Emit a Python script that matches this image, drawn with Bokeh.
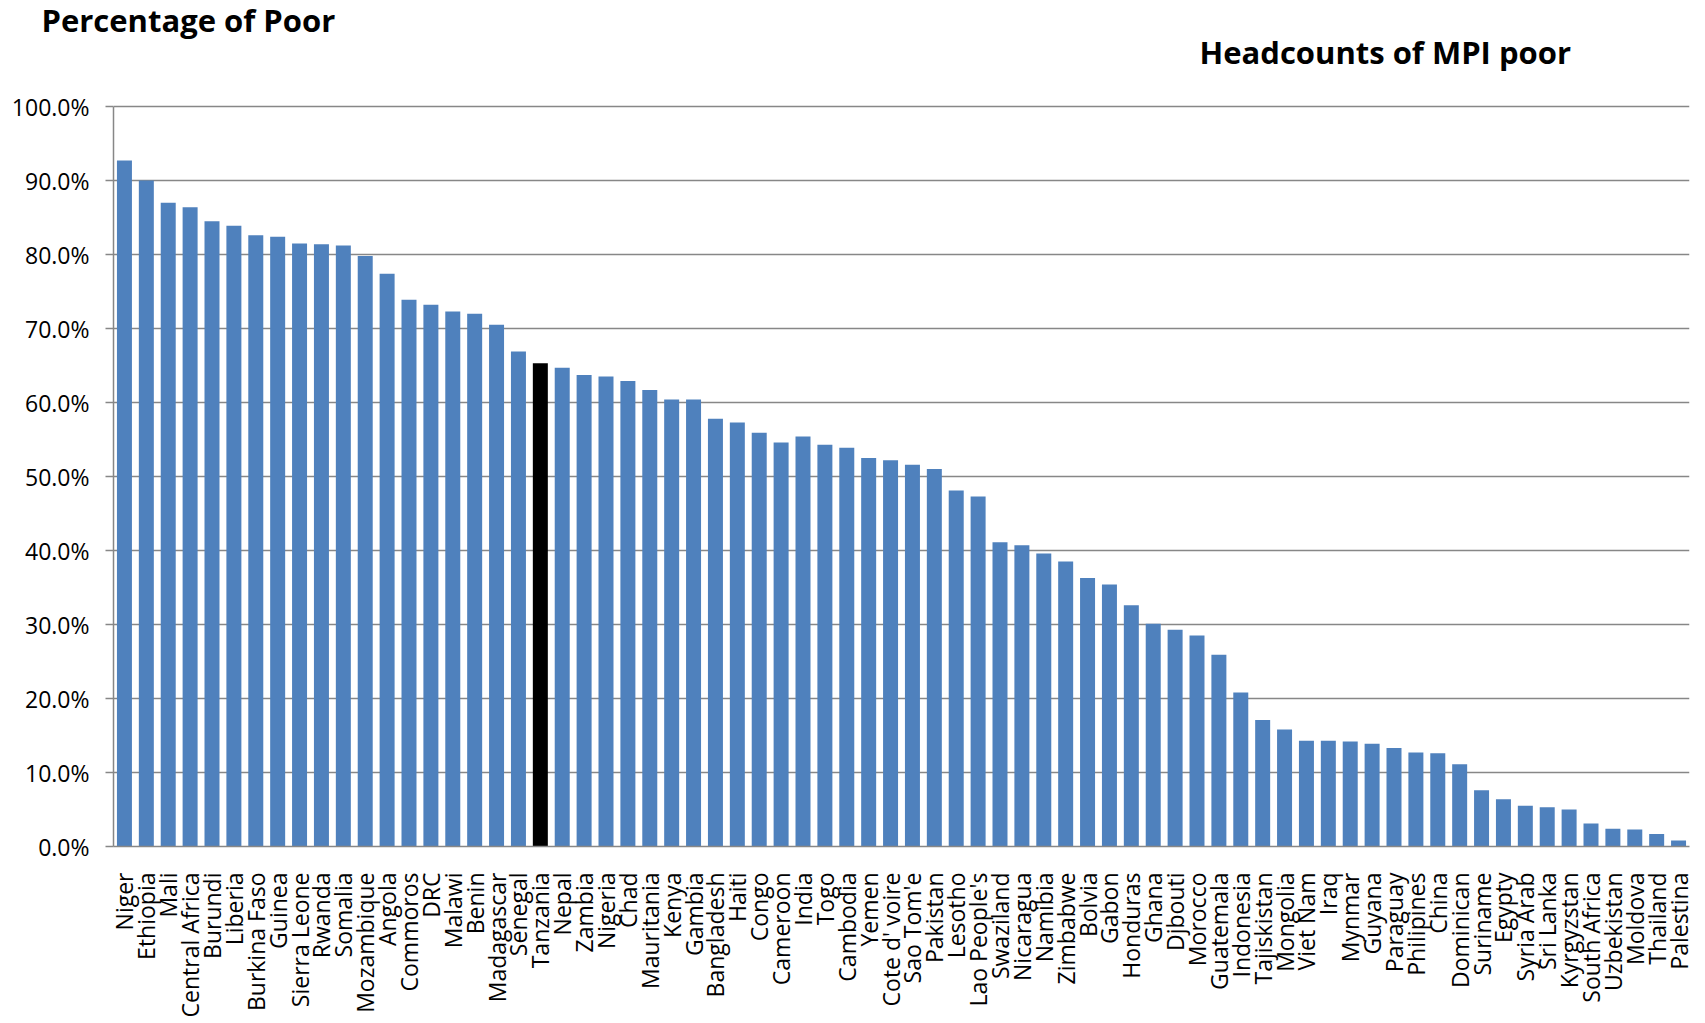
import math

from bokeh.plotting import figure
from bokeh.core.properties import value
from bokeh.models import ColumnDataSource, FixedTicker, NumeralTickFormatter, Range1d, Title
from bokeh.embed import file_html
from bokeh.resources import INLINE

countries = [
    "Niger", "Ethiopia", "Mali", "Central Africa", "Burundi", "Liberia", "Burkina Faso",
    "Guinea", "Sierra Leone", "Rwanda", "Somalia", "Mozambique", "Angola", "Commoros",
    "DRC", "Malawi", "Benin", "Madagascar", "Senegal", "Tanzania", "Nepal", "Zambia",
    "Nigeria", "Chad", "Mauritania", "Kenya", "Gambia", "Bangladesh", "Haiti", "Congo",
    "Cameroon", "India", "Togo", "Cambodia", "Yemen", "Cote d' voire", "Sao Tom'e",
    "Pakistan", "Lesotho", "Lao People's", "Swaziland", "Nicaragua", "Namibia",
    "Zimbabwe", "Bolvia", "Gabon", "Honduras", "Ghana", "Djbouti", "Morocco",
    "Guatemala", "Indonesia", "Tajiskistan", "Mongolia", "Viet Nam", "Iraq", "Mynmar",
    "Guyana", "Paraguay", "Philipines", "China", "Dominican", "Suriname", "Egypty",
    "Syria Arab", "Sri Lanka", "Kyrgyzstan", "South Africa", "Uzbekistan", "Moldova",
    "Thailand", "Palestina",
]

# share of population that is MPI poor
poor_share = [
    0.927, 0.900, 0.870, 0.864, 0.845, 0.839, 0.826, 0.824, 0.815, 0.814, 0.812, 0.798,
    0.774, 0.739, 0.732, 0.723, 0.720, 0.705, 0.669, 0.653, 0.647, 0.637, 0.635, 0.629,
    0.617, 0.604, 0.604, 0.578, 0.573, 0.559, 0.546, 0.554, 0.543, 0.539, 0.525, 0.522,
    0.516, 0.510, 0.481, 0.473, 0.411, 0.407, 0.396, 0.385, 0.363, 0.354, 0.326, 0.301,
    0.293, 0.285, 0.259, 0.208, 0.171, 0.158, 0.143, 0.143, 0.142, 0.139, 0.133, 0.127,
    0.126, 0.111, 0.076, 0.064, 0.055, 0.053, 0.050, 0.031, 0.024, 0.023, 0.017, 0.008,
]

highlight = "Tanzania"
y_ticks = [0.0, 0.1, 0.2, 0.3, 0.4, 0.5, 0.6, 0.7, 0.8, 0.9, 1.0]

BLUE = "#4F81BD"
GRID = "#878787"
FONT = "Open Sans"

# page geometry (pixels)
W, H = 1705, 1023
LEFT, RIGHT, BOTTOM = 113, 16, 177
TOP = 30                # band kept for the main heading
AXIS_TOP = 106          # where the 100% gridline sits
px_per_unit = (H - BOTTOM - AXIS_TOP) / 1.0
y_end = 1.0 + (AXIS_TOP - TOP) / px_per_unit
n = len(countries)
px_per_cat = (W - LEFT - RIGHT) / n

idx = list(range(n))
colors = ["#000000" if c == highlight else BLUE for c in countries]
src = ColumnDataSource(dict(x=idx, top=poor_share, color=colors, name=countries))

p = figure(
    width=W, height=H,
    x_range=Range1d(-0.5, n - 0.5),
    y_range=Range1d(0, y_end),
    output_backend="svg", toolbar_location=None,
    min_border_left=LEFT, min_border_right=RIGHT, min_border_top=TOP, min_border_bottom=BOTTOM,
)
p.outline_line_color = None
p.background_fill_color = "white"
p.border_fill_color = "white"

p.vbar(x="x", top="top", width=0.685, bottom=0, source=src,
       fill_color="color", line_color=None)

# y axis, kept to the 0-100% span
p.yaxis.bounds = (0, 1.0)
p.yaxis.ticker = FixedTicker(ticks=y_ticks)
p.yaxis.formatter = NumeralTickFormatter(format="0.0%")
p.yaxis.axis_line_color = GRID
p.yaxis.axis_line_width = 1.5
p.yaxis.major_tick_line_color = GRID
p.yaxis.major_tick_line_width = 1.5
p.yaxis.major_tick_out = 8
p.yaxis.major_tick_in = 0
p.yaxis.minor_tick_line_color = None
p.yaxis.major_label_text_font = FONT
p.yaxis.major_label_text_font_size = "23px"
p.yaxis.major_label_text_color = "#000000"
p.yaxis.major_label_standoff = 16

# x axis with country names, reading upwards
p.xaxis.ticker = FixedTicker(ticks=idx)
p.xaxis.major_label_overrides = {i: c for i, c in enumerate(countries)}
p.xaxis.major_label_orientation = math.pi / 2
p.xaxis.axis_line_color = GRID
p.xaxis.axis_line_width = 1.5
p.xaxis.major_tick_line_color = None
p.xaxis.minor_tick_line_color = None
p.xaxis.major_tick_out = 0
p.xaxis.major_tick_in = 0
p.xaxis.major_label_text_font = FONT
p.xaxis.major_label_text_font_size = "23px"
p.xaxis.major_label_text_color = "#000000"
p.xaxis.major_label_standoff = 26

p.xgrid.grid_line_color = None
p.ygrid.ticker = FixedTicker(ticks=y_ticks)
p.ygrid.grid_line_color = GRID
p.ygrid.grid_line_width = 1.5

# main heading, top left (pulled down so it overlaps the empty strip above 100%)
p.add_layout(Title(text="Percentage of Poor", align="left", offset=41 - LEFT,
                   text_font=FONT, text_font_style="bold", text_font_size="31px",
                   text_color="#000000", standoff=-21), "above")

# secondary heading above the right half of the bars
sub_x = -0.5 + (1199 - LEFT) / px_per_cat
sub_y = 1.0 + (AXIS_TOP - 51) / px_per_unit
p.text(x=[sub_x], y=[sub_y], text=["Headcounts of MPI poor"],
       text_font=value(FONT), text_font_style="bold", text_font_size="31px",
       text_color="#000000", text_align="left", text_baseline="middle")

open("out.html", "w").write(file_html(p, INLINE))
